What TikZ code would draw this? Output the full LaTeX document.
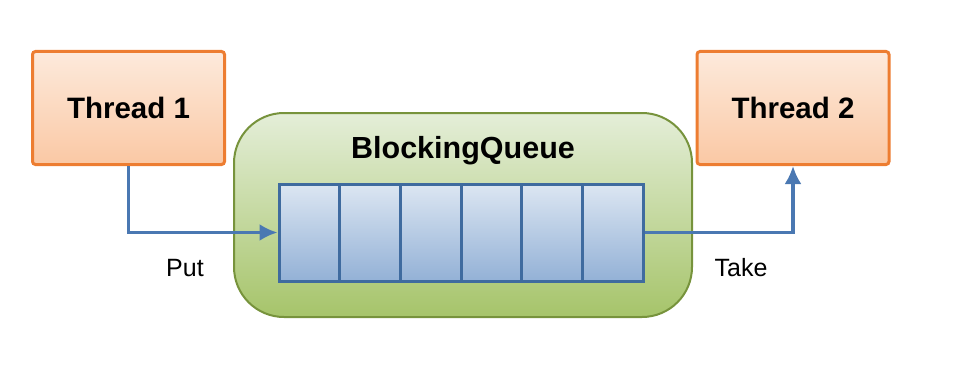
\documentclass[tikz,border=0pt]{standalone}
\usepackage{fontspec}
\setmainfont{Liberation Sans}
\usepackage{tikz}
\usetikzlibrary{arrows.meta,positioning,calc}
\definecolor{thrborder}{HTML}{ED7D31}
\definecolor{thrtop}{HTML}{FDEADC}
\definecolor{thrbot}{HTML}{FAC8A4}
\definecolor{qborder}{HTML}{77933C}
\definecolor{qtop}{HTML}{E4EED8}
\definecolor{qbot}{HTML}{A6C46A}
\definecolor{cellborder}{HTML}{3F6B9F}
\definecolor{celltop}{HTML}{DCE6F2}
\definecolor{cellbot}{HTML}{93B1D6}
\definecolor{flow}{HTML}{4A78B2}

\begin{document}
\begin{tikzpicture}[x=1pt, y=-1pt,
        threadbox/.style={draw=thrborder, line width=3pt, top color=thrtop, bottom color=thrbot, minimum width=192pt, minimum height=113pt, rounded corners=3pt, font=\fontsize{29.5}{32}\selectfont\bfseries},
        cellbox/.style={draw=cellborder, line width=3pt, top color=celltop, bottom color=cellbot, minimum width=60.7pt, minimum height=97pt, inner sep=0pt},
        flowline/.style={draw=flow, line width=3.2pt, -{Latex[length=18pt,width=17pt]}},
        flowlabel/.style={font=\fontsize{25}{28}\selectfont}]
        \useasboundingbox (0,0) rectangle (965,369);
        \node[threadbox] (thr1) at (128.5,108) {Thread 1};
        \node[threadbox] (thr2) at (793,108) {Thread 2};
        \node[draw=qborder, line width=2pt, top color=qtop, bottom color=qbot, minimum width=458pt, minimum height=204pt, rounded corners=50pt] (bq) at (463,215) {};
        \node[font=\fontsize{30.5}{33}\selectfont\bfseries] (bqlabel) at (463,151) {BlockingQueue};

        % queue slots
        \foreach \i in {1,...,6}
            \node[cellbox] (cell\i) at ({279+60.7*(\i-0.5)},232.5) {};

        \draw[flowline] (thr1.south) |- (cell1.west);
        \draw[flowline] (cell6.east) -| (thr2.south);
        \node[flowlabel] (put) at (185,268) {Put};
        \node[flowlabel] (take) at (741,268) {Take};
    \end{tikzpicture}
\end{document}
